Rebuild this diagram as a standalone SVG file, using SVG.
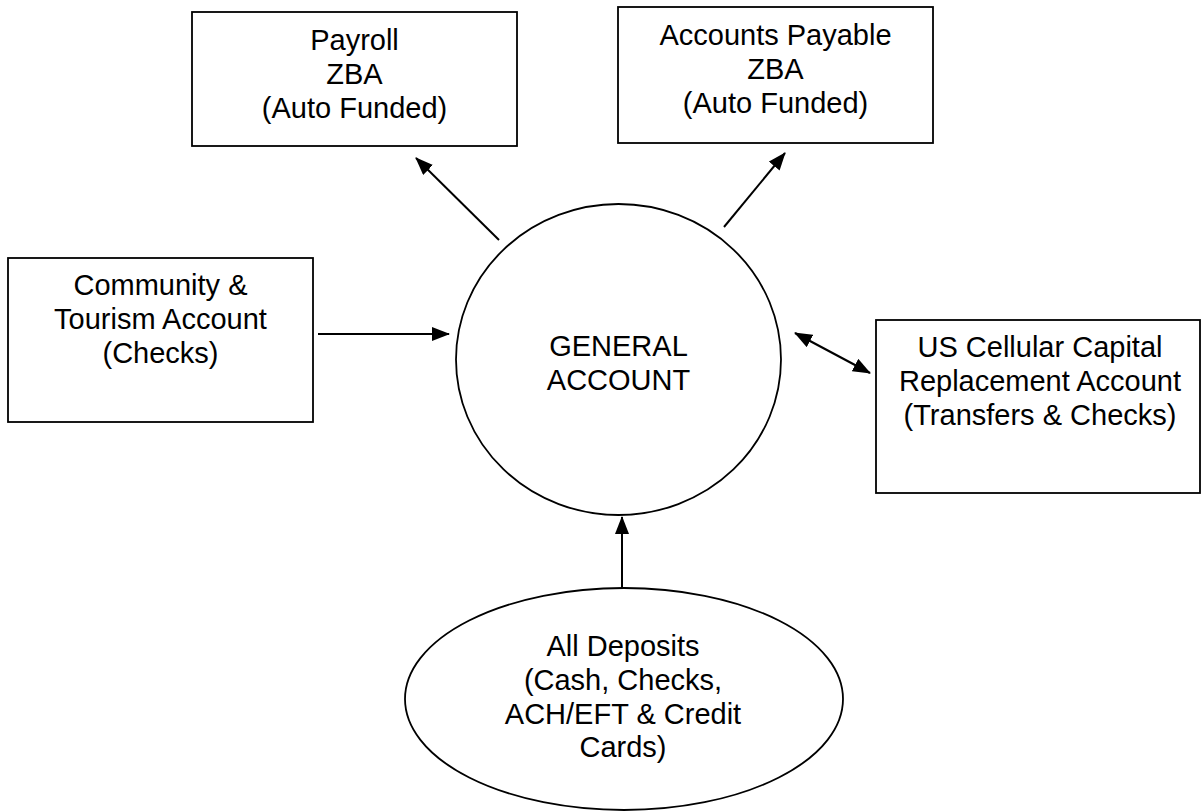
<svg xmlns="http://www.w3.org/2000/svg" width="1201" height="812" viewBox="0 0 1201 812">
<style>
.box{fill:#fff;stroke:#000;stroke-width:1.8}
.lbl{font-family:"Liberation Sans",Arial,sans-serif;font-size:29px;fill:#000;text-anchor:middle}
.edge{stroke:#000;stroke-width:2;fill:none}
</style>
<defs>
<marker id="ah" markerUnits="userSpaceOnUse" markerWidth="19" markerHeight="15" refX="17" refY="7" orient="auto-start-reverse">
<path d="M0,0 L18,7 L0,14 Z" fill="#000"/>
</marker>
</defs>
<rect width="1201" height="812" fill="#fff"/>
<g id="payroll">
<rect class="box" x="192" y="12" width="325" height="134"/>
<text class="lbl" x="354.5" y="50">Payroll</text>
<text class="lbl" x="354.5" y="84">ZBA</text>
<text class="lbl" x="354.5" y="118">(Auto Funded)</text>
</g>
<g id="accounts-payable">
<rect class="box" x="618" y="7" width="315" height="136"/>
<text class="lbl" x="775.5" y="45">Accounts Payable</text>
<text class="lbl" x="775.5" y="79">ZBA</text>
<text class="lbl" x="775.5" y="113">(Auto Funded)</text>
</g>
<g id="community">
<rect class="box" x="8" y="258" width="305" height="164"/>
<text class="lbl" x="160.5" y="295">Community &amp;</text>
<text class="lbl" x="160.5" y="329">Tourism Account</text>
<text class="lbl" x="160.5" y="363">(Checks)</text>
</g>
<g id="us-cellular">
<rect class="box" x="876" y="320" width="324" height="173"/>
<text class="lbl" x="1040" y="357">US Cellular Capital</text>
<text class="lbl" x="1040" y="391">Replacement Account</text>
<text class="lbl" x="1040" y="425">(Transfers &amp; Checks)</text>
</g>
<g id="general">
<ellipse class="box" cx="618.5" cy="359.5" rx="162.5" ry="155.5"/>
<text class="lbl" x="618.5" y="356">GENERAL</text>
<text class="lbl" x="618.5" y="390">ACCOUNT</text>
</g>
<g id="deposits">
<ellipse class="box" cx="624" cy="699" rx="219" ry="111"/>
<text class="lbl" x="623" y="656">All Deposits</text>
<text class="lbl" x="623" y="690">(Cash, Checks,</text>
<text class="lbl" x="623" y="724">ACH/EFT &amp; Credit</text>
<text class="lbl" x="623" y="757">Cards)</text>
</g>
<g id="connectors">
<line class="edge" x1="499" y1="240" x2="416" y2="158" marker-end="url(#ah)"/>
<line class="edge" x1="724" y1="227" x2="785" y2="153" marker-end="url(#ah)"/>
<line class="edge" x1="318" y1="334" x2="449" y2="334" marker-end="url(#ah)"/>
<line class="edge" x1="795" y1="333" x2="870" y2="373" marker-start="url(#ah)" marker-end="url(#ah)"/>
<line class="edge" x1="622" y1="588" x2="622" y2="517" marker-end="url(#ah)"/>
</g>
</svg>
